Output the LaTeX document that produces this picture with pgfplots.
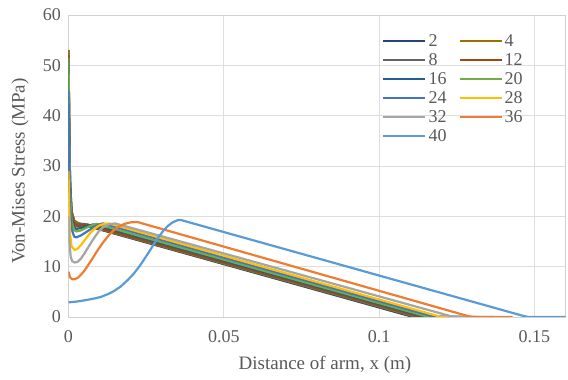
\documentclass[border=0pt]{standalone}
\usepackage{fontspec}
\setmainfont{Liberation Serif}
\usepackage{pgfplots}
\pgfplotsset{compat=1.18}
\definecolor{c2}{HTML}{264478}
\definecolor{c4}{HTML}{997300}
\definecolor{c8}{HTML}{636363}
\definecolor{c12}{HTML}{9E480E}
\definecolor{c16}{HTML}{255E91}
\definecolor{c20}{HTML}{70AD47}
\definecolor{c24}{HTML}{4472C4}
\definecolor{c28}{HTML}{FFC000}
\definecolor{c32}{HTML}{A5A5A5}
\definecolor{c36}{HTML}{ED7D31}
\definecolor{c40}{HTML}{5B9BD5}
\definecolor{txt}{HTML}{595959}
\begin{document}
\begin{tikzpicture}
\begin{axis}[
  name=ax,
  scale only axis, width=497pt, height=302pt,
  xmin=0, xmax=0.16, ymin=0, ymax=60,
  xtick={0,0.05,0.1,0.15}, xticklabels={0,0.05,0.1,0.15},
  ytick={0,10,20,30,40,50,60},
  grid=major, grid style={draw=black!13, line width=0.8pt},
  axis line style={draw=black!18, line width=0.8pt},
  tick style={draw=none},
  ticklabel style={font=\fontsize{18}{20}\selectfont, text=txt},
  /pgf/number format/assume math mode=true,
  yticklabel style={xshift=-4pt},
  xticklabel style={yshift=-10pt},
  xlabel={Distance of arm, x (m)},
  ylabel={Von-Mises Stress (MPa)},
  xlabel style={font=\fontsize{19}{21}\selectfont, text=txt, at={(axis description cs:0.516,-0.159)}, anchor=center},
  ylabel style={font=\fontsize{19}{21}\selectfont, text=txt, at={(axis description cs:-0.0976,0.483)}, anchor=center},
  legend columns=2,
  legend cell align=left,
  legend style={at={(0.625,0.95)}, anchor=north west, draw=none, fill=none,
    font=\fontsize{18}{18}\selectfont, text=txt, row sep=1.5pt,
    /tikz/every even column/.append style={column sep=10pt}},
  legend image code/.code={\draw[#1] (0pt,0pt) -- (42pt,0pt);},
  every axis plot/.append style={line width=2.2pt, line join=round},
]
\addplot[c2] coordinates {(0,53)(0.0002,40)(0.0005,27)(0.001,21)(0.0018,19.2)(0.003,18.6)(0.111,0)(0.124,0)};
\addlegendentry{2}
\addplot[c4] coordinates {(0,53)(0.0002,40)(0.0005,27)(0.001,21)(0.0018,19.1)(0.003,18.7)(0.112,0)(0.125,0)};
\addlegendentry{4}
\addplot[c8] coordinates {(0,52)(0.0002,39)(0.0005,26)(0.001,20.5)(0.0018,18.6)(0.003,18.4)(0.005,18.5)(0.113,0)(0.126,0)};
\addlegendentry{8}
\addplot[c12] coordinates {(0,52)(0.0002,39)(0.0005,26)(0.001,20.2)(0.002,18.2)(0.003,18.0)(0.0045,18.2)(0.006,18.4)(0.114,0)(0.127,0)};
\addlegendentry{12}
\addplot[c16] coordinates {(0,51)(0.0002,38)(0.0005,25)(0.001,19.5)(0.0018,17.8)(0.0025,17.5)(0.004,17.7)(0.006,18.1)(0.008,18.4)(0.115,0)(0.128,0)};
\addlegendentry{16}
\addplot[c20] coordinates {(0,51.5)(0.0002,38)(0.0005,25)(0.001,19)(0.0018,17.3)(0.0025,17.0)(0.004,17.2)(0.006,17.8)(0.0075,18.2)(0.009,18.5)(0.116,0)(0.129,0)};
\addlegendentry{20}
\addplot[c24] coordinates {(0,45)(0.0002,33)(0.0005,22)(0.001,17.5)(0.0018,16.0)(0.0025,15.8)(0.004,16.2)(0.006,17.0)(0.008,17.8)(0.0095,18.3)(0.011,18.6)(0.118,0)(0.131,0)};
\addlegendentry{24}
\addplot[c28] coordinates {(0,29)(0.0002,22)(0.0005,16.5)(0.001,14.0)(0.002,13.3)(0.003,13.6)(0.004,14.3)(0.0055,15.5)(0.007,16.7)(0.0085,17.6)(0.010,18.2)(0.0115,18.5)(0.013,18.6)(0.120,0)(0.133,0)};
\addlegendentry{28}
\addplot[c32] coordinates {(0,20)(0.0003,15)(0.0007,12)(0.0012,11.1)(0.002,10.8)(0.003,11.0)(0.004,11.6)(0.005,12.5)(0.0065,14.0)(0.008,15.5)(0.0095,16.8)(0.011,17.8)(0.013,18.4)(0.015,18.6)(0.124,0)(0.137,0)};
\addlegendentry{32}
\addplot[c36] coordinates {(0,9)(0.0005,7.9)(0.0012,7.5)(0.002,7.5)(0.003,7.8)(0.004,8.4)(0.005,9.1)(0.006,10.0)(0.0075,11.4)(0.009,12.9)(0.011,14.7)(0.0128,16.1)(0.0145,17.2)(0.016,17.9)(0.018,18.5)(0.020,18.8)(0.022,18.9)(0.1285,0.2)(0.130,0)(0.143,0)};
\addlegendentry{36}
\addplot[c40] coordinates {(0,2.9)(0.003,3.1)(0.006,3.4)(0.0085,3.7)(0.0105,4.0)(0.0125,4.5)(0.0145,5.1)(0.0167,6.0)(0.019,7.3)(0.021,8.6)(0.023,10.2)(0.0245,11.6)(0.026,13.0)(0.0275,14.5)(0.029,15.9)(0.0305,17.1)(0.032,18.1)(0.0335,18.8)(0.035,19.2)(0.036,19.3)(0.1465,0.2)(0.148,0)(0.16,0)};
\addlegendentry{40}
\end{axis}
\pgfresetboundingbox
\path ([shift={(-68.5pt,-63pt)}]ax.south west) rectangle ([shift={(2.5pt,15pt)}]ax.north east);
\end{tikzpicture}
\end{document}
